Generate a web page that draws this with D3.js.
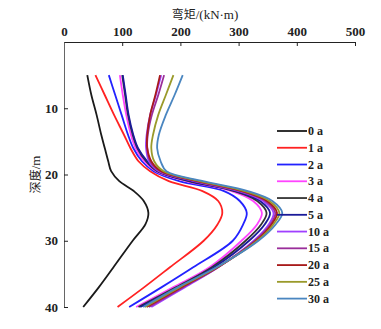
<!DOCTYPE html>
<html>
<head>
<meta charset="utf-8">
<script src="https://cdn.jsdelivr.net/npm/d3@7"></script>
<style>
  body { margin: 0; background: #fff; }
  svg { display: block; }
</style>
</head>
<body>
<div id="chart"></div>
<script>
// depth (m) at which bending moment was read
const depths = [5, 8, 11, 14, 16, 18, 19.5, 21, 22.5, 24, 25.8, 27.5, 30, 34, 37, 40];

// bending moment (kN·m) per service year
const m0a  = [40, 47, 56, 64, 70, 76, 81, 95, 120, 137, 145, 140, 118, 85, 60, 33];
const m1a  = [54, 70, 86, 103, 114, 128, 148, 180, 238, 265, 272, 264, 240, 182, 138, 92];
const m2a  = [77, 88, 99, 110, 119, 134, 154, 198, 275, 302, 314, 308, 290, 222, 168, 112];
const m3a  = [96, 101, 107, 115, 123, 138, 158, 210, 288, 325, 340, 332, 305, 250, 188, 124];
const m4a  = [100, 105, 110, 118, 126, 141, 160, 214, 292, 332, 348, 339, 312, 254, 193, 128];
const m5a  = [101, 106, 111, 119, 127, 143, 162, 218, 296, 337, 354, 345, 318, 258, 197, 131];
const m10a = [167, 158, 148, 142, 141, 146, 163, 223, 300, 342, 360, 352, 326, 265, 208, 150];
const m15a = [172, 162, 151, 144, 143, 148, 165, 226, 303, 346, 363, 355, 328, 265, 205, 146];
const m20a = [165, 157, 148, 143, 143, 150, 167, 229, 306, 349, 366, 357, 330, 264, 202, 142];
const m25a = [188, 175, 162, 153, 150, 155, 171, 233, 310, 353, 370, 360, 332, 263, 199, 139];
const m30a = [204, 190, 175, 163, 160, 166, 176, 239, 316, 358, 375, 364, 334, 262, 196, 136];

const yearLabels = ['0 a', '1 a', '2 a', '3 a', '4 a', '5 a', '10 a', '15 a', '20 a', '25 a', '30 a'];
const xTicks = [0, 100, 200, 300, 400, 500];
const yTicks = [10, 20, 30, 40];

const seriesValues = [m0a, m1a, m2a, m3a, m4a, m5a, m10a, m15a, m20a, m25a, m30a];
const colors = ['#1a1a1a', '#ff2222', '#2222ff', '#ff44ff', '#333333', '#1a1a99',
                '#a040ff', '#9a2e9a', '#a81a1a', '#9a9a2a', '#4a86c0'];

const width = 381, height = 329;
const margin = { top: 42, left: 64 };
const plotW = 291, plotH = 265;
const font = '"Liberation Serif", "Times New Roman", serif';
const cjk = '"Noto Sans CJK SC", sans-serif';

const svg = d3.select('#chart').append('svg')
  .attr('width', width)
  .attr('height', height);

const x = d3.scaleLinear().domain([0, 500]).range([margin.left, margin.left + plotW]);
const y = d3.scaleLinear().domain([0, 40]).range([margin.top, margin.top + plotH]);

// top axis
const xAxis = svg.append('g')
  .attr('transform', `translate(0,${margin.top})`)
  .call(d3.axisTop(x).tickValues(xTicks).tickSizeInner(-4).tickSizeOuter(0).tickPadding(6));
xAxis.select('.domain').attr('stroke', '#222');
xAxis.selectAll('.tick line').attr('stroke', '#222');
xAxis.selectAll('text')
  .style('font-family', font)
  .style('font-size', '13px')
  .style('font-weight', 'bold')
  .attr('fill', '#222');

// left axis
const yAxis = svg.append('g')
  .attr('transform', `translate(${margin.left},0)`)
  .call(d3.axisLeft(y).tickValues(yTicks).tickSizeInner(-4).tickSizeOuter(0).tickPadding(6));
yAxis.select('.domain').attr('stroke', '#666');
yAxis.selectAll('.tick line').attr('stroke', '#222');
yAxis.selectAll('text')
  .style('font-family', font)
  .style('font-size', '13px')
  .style('font-weight', 'bold')
  .attr('fill', '#222');

// axis titles
const xTitle = svg.append('text')
  .attr('x', 205)
  .attr('y', 19)
  .attr('text-anchor', 'middle')
  .style('font-size', '12px')
  .attr('fill', '#222');
xTitle.append('tspan').style('font-family', cjk).text('弯矩');
xTitle.append('tspan').style('font-family', font).style('font-size', '13px').text('/(kN·m)');

const yTitle = svg.append('text')
  .attr('transform', `translate(40,${y(20)}) rotate(-90)`)
  .attr('text-anchor', 'middle')
  .style('font-size', '12px')
  .attr('fill', '#222');
yTitle.append('tspan').style('font-family', cjk).text('深度');
yTitle.append('tspan').style('font-family', font).style('font-size', '13px').text('/m');

// curves
const line = d3.line()
  .x(d => x(d[1]))
  .y(d => y(d[0]))
  .curve(d3.curveCatmullRom.alpha(0.5));

svg.append('g')
  .selectAll('path')
  .data(seriesValues)
  .enter().append('path')
  .attr('d', vals => line(depths.map((dep, i) => [dep, vals[i]])))
  .attr('fill', 'none')
  .attr('stroke', (d, i) => colors[i])
  .attr('stroke-width', 1.8);

// legend
const legend = svg.append('g')
  .attr('transform', 'translate(277,131)');

const items = legend.selectAll('g')
  .data(yearLabels)
  .enter().append('g')
  .attr('transform', (d, i) => `translate(0,${i * 16.76})`);

items.append('line')
  .attr('x1', 0)
  .attr('x2', 30)
  .attr('stroke', (d, i) => colors[i])
  .attr('stroke-width', 1.8);

items.append('text')
  .attr('x', 31)
  .attr('y', 4)
  .style('font-family', font)
  .style('font-size', '12px')
  .style('font-weight', 'bold')
  .attr('fill', '#222')
  .text(d => d);
</script>
</body>
</html>
